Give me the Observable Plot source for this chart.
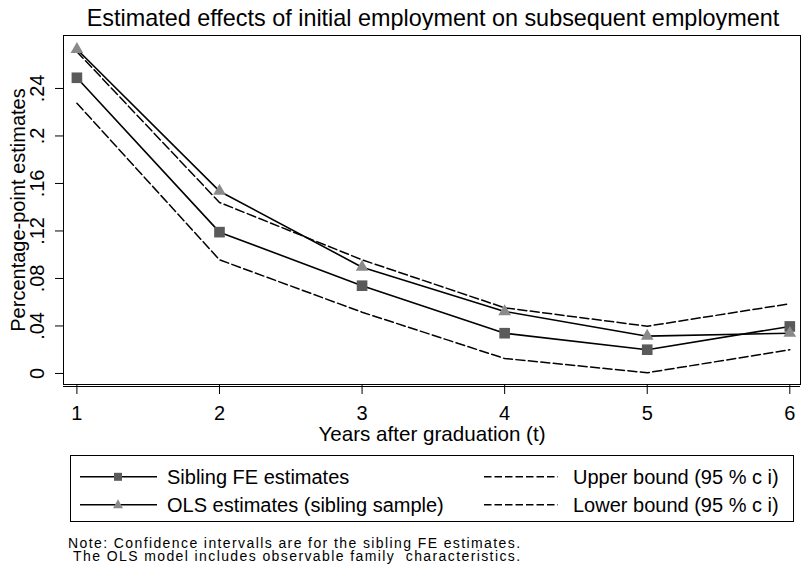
<!DOCTYPE html>
<html><head><meta charset="utf-8">
<script src="https://cdn.jsdelivr.net/npm/d3@7"></script>
<script src="https://cdn.jsdelivr.net/npm/@observablehq/plot@0.6"></script>
<style>
body{margin:0;background:#fff;}
#c{position:relative;width:802px;height:572px;font-family:"Liberation Sans",Arial,sans-serif;color:#000;overflow:hidden;background:#fff}
.t{position:absolute;white-space:pre;}
#plot{position:absolute;left:0;top:30px;}
</style></head><body><div id="c"></div>
<script>
// ---- data ----
const years = [1, 2, 3, 4, 5, 6];
const siblingFE = [0.249, 0.119, 0.0739, 0.0339, 0.020, 0.0396];
const olsEst = [0.273, 0.1535, 0.0895, 0.0522, 0.0314, 0.0339];
const upperBound = [0.271, 0.144, 0.0957, 0.0553, 0.0398, 0.0587];
const lowerBound = [0.2276, 0.0957, 0.0516, 0.0126, 0.0006, 0.020];
const xTicks = [1, 2, 3, 4, 5, 6];
const xTickLabels = ["1", "2", "3", "4", "5", "6"];
const yTicks = [0, 0.04, 0.08, 0.12, 0.16, 0.2, 0.24];
const yTickLabels = ["0", ".04", ".08", ".12", ".16", ".2", ".24"];
const seriesNames = ["Sibling FE estimates", "OLS estimates (sibling sample)", "Upper bound (95 % c i)", "Lower bound (95 % c i)"];
const titleText = "Estimated effects of initial employment on subsequent employment";
const xLabel = "Years after graduation (t)";
const yLabel = "Percentage-point estimates";
const noteLines = ["Note: Confidence intervalls are for the sibling FE estimates.", " The OLS model includes observable family  characteristics."];

const rows = years.map((t, i) => ({t, fe: siblingFE[i], ols: olsEst[i], up: upperBound[i], lo: lowerBound[i]}));
const yMin = -0.0093, yMax = 0.2846;

const c = document.getElementById("c");
function addText(txt, left, top, fs, extra = "") {
  const d = document.createElement("div");
  d.className = "t";
  d.textContent = txt;
  d.style.cssText = `left:${left}px;top:${top}px;font-size:${fs}px;line-height:${fs}px;${extra}`;
  c.appendChild(d);
  return d;
}

// title
addText(titleText, 0, 7, 23.4, "width:802px;text-align:center;padding-left:64px;box-sizing:border-box;");

const plot = Plot.plot({
  width: 802, height: 420,
  marginTop: 5, marginBottom: 66, marginLeft: 63, marginRight: 2,
  style: {fontFamily: "'Liberation Sans', Arial, sans-serif", fontSize: "20px", color: "#000", background: "#fff", overflow: "visible"},
  x: {domain: [0.906, 6.075]},
  y: {domain: [yMin, yMax]},
  marks: [
    Plot.frame({stroke: "#000", strokeWidth: 1}),
    Plot.ruleY([yMin], {dy: 2, stroke: "#000", strokeWidth: 1}),
    Plot.axisX(xTicks, {tickSize: 10, tickPadding: 11, fontSize: 20, stroke: "#000", label: null, tickFormat: d => xTickLabels[xTicks.indexOf(d)]}),
    Plot.axisX({ticks: [], label: xLabel, labelAnchor: "center", labelOffset: 56, labelArrow: "none", fontSize: 20.6}),
    Plot.axisY(yTicks, {tickSize: 8, tickPadding: 12, tickRotate: -90, tickFormat: d => yTickLabels[yTicks.indexOf(d)], fontSize: 20, stroke: "#000", label: yLabel, labelAnchor: "center", labelOffset: 53, labelArrow: "none"}),
    Plot.line(rows, {x: "t", y: "up", stroke: "#000", strokeWidth: 1.5, strokeDasharray: "9,3.5"}),
    Plot.line(rows, {x: "t", y: "lo", stroke: "#000", strokeWidth: 1.5, strokeDasharray: "9,3.5"}),
    Plot.line(rows, {x: "t", y: "fe", stroke: "#000", strokeWidth: 1.6}),
    Plot.line(rows, {x: "t", y: "ols", stroke: "#000", strokeWidth: 1.6}),
    Plot.dot(rows, {x: "t", y: "fe", symbol: "square", r: 6, fill: "#5a5a5a", stroke: "none"}),
    Plot.dot(rows, {x: "t", y: "ols", symbol: "triangle", r: 4.7, fill: "#8a8a8a", stroke: "none"})
  ]
});
plot.id = "plot";
c.appendChild(plot);

// legend box
const box = document.createElement("div");
box.style.cssText = "position:absolute;left:70px;top:455px;width:724px;height:67px;border:1px solid #000;box-sizing:border-box;";
c.appendChild(box);

// legend swatches
const svgNS = "http://www.w3.org/2000/svg";
const sw = document.createElementNS(svgNS, "svg");
sw.setAttribute("width", 802); sw.setAttribute("height", 572);
sw.style.cssText = "position:absolute;left:0;top:0;pointer-events:none;";
c.appendChild(sw);
function el(name, attrs) {
  const e = document.createElementNS(svgNS, name);
  for (const k in attrs) e.setAttribute(k, attrs[k]);
  sw.appendChild(e);
  return e;
}
const rowY = [476.8, 504.8];
el("line", {x1: 80, x2: 157, y1: rowY[0], y2: rowY[0], stroke: "#000", "stroke-width": 1.6});
el("rect", {x: 114, y: rowY[0] - 4, width: 8, height: 8, fill: "#5a5a5a"});
el("line", {x1: 80, x2: 157, y1: rowY[1], y2: rowY[1], stroke: "#000", "stroke-width": 1.6});
el("path", {d: `M118,${rowY[1] - 5.5}L123,${rowY[1] + 3.5}L113,${rowY[1] + 3.5}Z`, fill: "#8a8a8a"});
el("line", {x1: 484, x2: 558, y1: rowY[0], y2: rowY[0], stroke: "#000", "stroke-width": 1.4, "stroke-dasharray": "7.5,3"});
el("line", {x1: 484, x2: 558, y1: rowY[1], y2: rowY[1], stroke: "#000", "stroke-width": 1.4, "stroke-dasharray": "7.5,3"});

addText(seriesNames[0], 167, 467, 20);
addText(seriesNames[1], 167, 495, 20);
addText(seriesNames[2], 573, 467, 20);
addText(seriesNames[3], 573, 495, 20);

addText(noteLines.join("\n"), 68, 537, 14, "line-height:13px;letter-spacing:1.4px;");
</script></body></html>
